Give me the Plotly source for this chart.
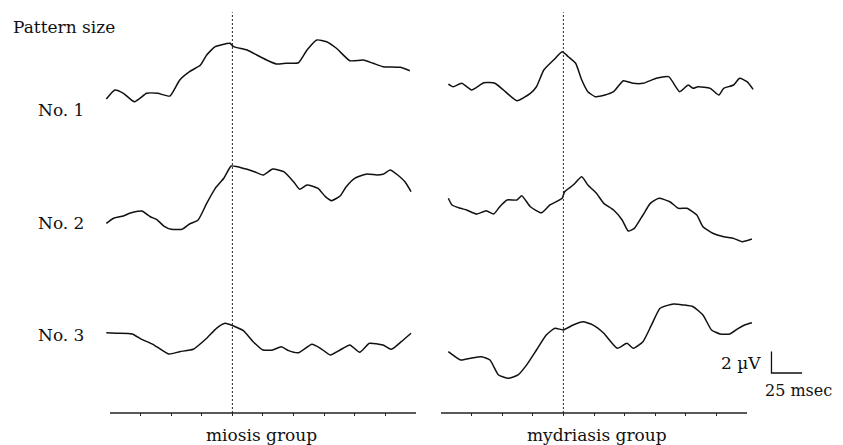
import plotly.graph_objects as go

# page body adds an 8 px margin, so the figure is drawn 8 px smaller and
# every reference pixel position is shifted by that offset
OFF = 8
W, H = 843 - OFF, 445 - OFF

# ---------------- data (time in msec, amplitude in µV) ----------------
mio1_t = [-3, 4, 11, 20, 30, 39, 49, 57, 65, 74, 79, 86, 98, 101, 112, 120, 128, 136, 144, 154,
          161, 169, 177, 185, 196, 207, 215, 223, 237, 245]
mio1_v = [-1.30, -0.46, -0.77, -1.55, -0.77, -0.77, -1.02, 0.46, 1.23, 1.85, 2.78, 3.55, 3.86, 3.55,
          3.24, 2.78, 2.31, 1.94, 2.01, 2.06, 3.24, 4.17, 4.01, 3.40, 2.25, 2.31, 2.01, 1.70, 1.64, 1.32]

myd1_t = [6, 10, 17, 25, 35, 44, 51, 62, 73, 78, 84, 92, 99, 104, 110, 115, 120, 126, 134, 141,
          149, 157, 165, 176, 186, 195, 202, 206, 210, 220, 227, 231, 239, 244, 250, 255]
myd1_v = [0.09, -0.16, 0.16, -0.46, 0.21, 0.16, -0.46, -1.45, -0.77, -0.16, 1.39, 2.31, 3.08, 2.62,
          2.01, 0.46, -0.62, -1.08, -0.93, -0.62, 0.40, 0.16, 0.16, 0.62, 0.77, -0.62, 0.00, -0.31,
          -0.16, -0.31, -0.93, -0.31, 0.00, 0.62, 0.31, -0.40]

mio2_t = [-3, 3, 11, 16, 26, 33, 38, 44, 50, 59, 65, 72, 79, 86, 93, 99, 104, 112, 118, 125, 133,
          142, 150, 155, 161, 170, 176, 181, 188, 193, 200, 210, 218, 223, 229, 234, 241, 246]
mio2_v = [-2.16, -1.69, -1.48, -1.23, -1.02, -1.55, -1.79, -2.41, -2.71, -2.71, -2.22, -1.85, -0.31,
          1.08, 2.01, 3.15, 3.08, 2.84, 2.62, 2.31, 2.87, 2.62, 1.69, 0.99, 1.39, 1.08, 0.31, -0.06,
          0.37, 1.23, 2.01, 2.41, 2.31, 2.38, 2.78, 2.41, 1.69, 0.77]

myd2_t = [6, 9, 16, 21, 29, 37, 43, 48, 54, 62, 66, 73, 82, 89, 99, 101, 108, 115, 120, 127, 133,
          141, 148, 153, 158, 165, 171, 178, 187, 194, 201, 209, 214, 222, 231, 239, 246, 254]
myd2_v = [0.16, -0.46, -0.77, -0.93, -1.30, -0.99, -1.30, -0.62, 0.00, 0.00, 0.40, -0.62, -1.18,
          -0.46, 0.16, 0.77, 1.39, 2.16, 1.39, 0.62, -0.31, -0.93, -1.85, -2.87, -2.62, -1.39, -0.31,
          0.16, -0.16, -0.77, -0.77, -1.39, -2.47, -3.08, -3.40, -3.55, -3.86, -3.61]

mio3_t = [-3, 5, 18, 26, 35, 48, 57, 68, 79, 87, 94, 101, 109, 117, 125, 133, 140, 146, 154, 165,
          172, 180, 188, 196, 204, 212, 223, 230, 238, 246]
mio3_v = [0.68, 0.62, 0.56, 0.06, -0.40, -1.30, -1.08, -0.86, 0.16, 1.08, 1.55, 1.30, 0.86, -0.16,
          -0.93, -0.93, -0.62, -0.99, -1.18, -0.40, -0.77, -1.39, -0.93, -0.46, -1.14, -0.31, -0.46,
          -0.86, -0.16, 0.62]

myd3_t = [6, 16, 24, 33, 40, 47, 55, 63, 70, 78, 86, 93, 100, 108, 116, 124, 133, 144, 152, 157,
          165, 172, 179, 190, 198, 206, 214, 221, 228, 236, 243, 248, 254]
myd3_v = [-1.08, -1.85, -1.69, -1.55, -1.85, -3.24, -3.55, -3.24, -2.31, -0.93, 0.46, 1.08, 0.93,
          1.39, 1.69, 1.39, 0.62, -0.77, -0.31, -0.77, -0.16, 1.39, 2.94, 3.33, 3.24, 3.08, 2.31,
          0.93, 0.56, 0.56, 1.08, 1.39, 1.60]

row_labels = ["No. 1", "No. 2", "No. 3"]
row_offsets = [30.37, 19.72, 6.76]          # vertical stacking of the traces (µV)
group_labels = ["miosis group", "mydriasis group"]
tick_ms = [25, 50, 75, 100, 125, 150, 175, 200, 225]
axis_span_ms = [0, 250]
marker_ms = 100                              # dashed reference latency
scale_uv = 2
scale_ms = 25

miosis = [(mio1_t, mio1_v), (mio2_t, mio2_v), (mio3_t, mio3_v)]
mydriasis = [(myd1_t, myd1_v), (myd2_t, myd2_v), (myd3_t, myd3_v)]

# ---------------- figure ----------------
FONT = "DejaVu Serif"
FS = 17
ML, MR, MT, MB = 0, 0, 0, 29
plot_h = H - MT - MB
Y_RANGE = [-0.28, 37.5]

def fx(ref_px):
    return (ref_px - OFF - ML) / (W - ML - MR)

def fy(ref_py):
    return (H - MB - (ref_py - OFF)) / plot_h

fig = go.Figure()
line_style = dict(color="#111111", width=1.5, shape="spline", smoothing=0.5)

for (t, v), off in zip(miosis, row_offsets):
    fig.add_trace(go.Scatter(x=t, y=[a + off for a in v], mode="lines", line=line_style,
                             xaxis="x", yaxis="y", showlegend=False, hoverinfo="skip"))
for (t, v), off in zip(mydriasis, row_offsets):
    fig.add_trace(go.Scatter(x=t, y=[a + off for a in v], mode="lines", line=line_style,
                             xaxis="x2", yaxis="y2", showlegend=False, hoverinfo="skip"))

# calibration bar (2 µV / 25 msec)
bar_t0, bar_v0 = 270, 3.7
fig.add_trace(go.Scatter(x=[bar_t0, bar_t0, bar_t0 + scale_ms],
                         y=[bar_v0 + scale_uv, bar_v0, bar_v0], mode="lines",
                         line=dict(color="#111111", width=1.3),
                         xaxis="x2", yaxis="y2", showlegend=False, hoverinfo="skip"))

shapes = []
for xr, yr in (("x", "y"), ("x2", "y2")):
    shapes.append(dict(type="line", xref=xr, yref=yr, x0=axis_span_ms[0], x1=axis_span_ms[1],
                       y0=0, y1=0, line=dict(color="#222222", width=1.5)))
    shapes.append(dict(type="line", xref=xr, yref=yr, x0=marker_ms, x1=marker_ms,
                       y0=0, y1=37.1, line=dict(color="#222222", width=1, dash="2px,2px")))

xcommon = dict(showgrid=False, zeroline=False, showline=False, showticklabels=False,
               tickmode="array", tickvals=tick_ms, ticks="inside", ticklen=3,
               tickwidth=1, tickcolor="#222222")
ycommon = dict(visible=False, range=Y_RANGE, showgrid=False, zeroline=False)

annotations = [
    dict(text="Pattern size", x=fx(11), y=fy(27), xanchor="left", yanchor="middle"),
    dict(text=row_labels[0], x=fx(61), y=fy(110), xanchor="center", yanchor="middle"),
    dict(text=row_labels[1], x=fx(61), y=fy(223), xanchor="center", yanchor="middle"),
    dict(text=row_labels[2], x=fx(61), y=fy(335), xanchor="center", yanchor="middle"),
    dict(text=group_labels[0], x=fx(261), y=fy(435), xanchor="center", yanchor="middle"),
    dict(text=group_labels[1], x=fx(597), y=fy(435), xanchor="center", yanchor="middle"),
    dict(text=f"{scale_uv} µV", x=fx(763), y=fy(363), xanchor="right", yanchor="middle"),
    dict(text=f"{scale_ms} msec", x=fx(834), y=fy(390), xanchor="right", yanchor="middle",
         font=dict(family=FONT, size=16, color="#111111")),
]
for a in annotations:
    a.update(xref="paper", yref="paper", showarrow=False)
    a.setdefault("font", dict(family=FONT, size=FS, color="#111111"))

fig.update_layout(
    width=W, height=H,
    margin=dict(l=ML, r=MR, t=MT, b=MB, pad=0),
    paper_bgcolor="white", plot_bgcolor="white",
    xaxis=dict(domain=[fx(100.2), fx(428.2)], range=[-8, 260], anchor="y", **xcommon),
    xaxis2=dict(domain=[fx(431.2), fx(808.2)], range=[-8, 300], anchor="y2", **xcommon),
    yaxis=dict(domain=[0, 1], anchor="x", **ycommon),
    yaxis2=dict(domain=[0, 1], anchor="x2", matches="y", **ycommon),
    shapes=shapes,
    annotations=annotations,
    showlegend=False,
)

fig.write_html("out.html")
